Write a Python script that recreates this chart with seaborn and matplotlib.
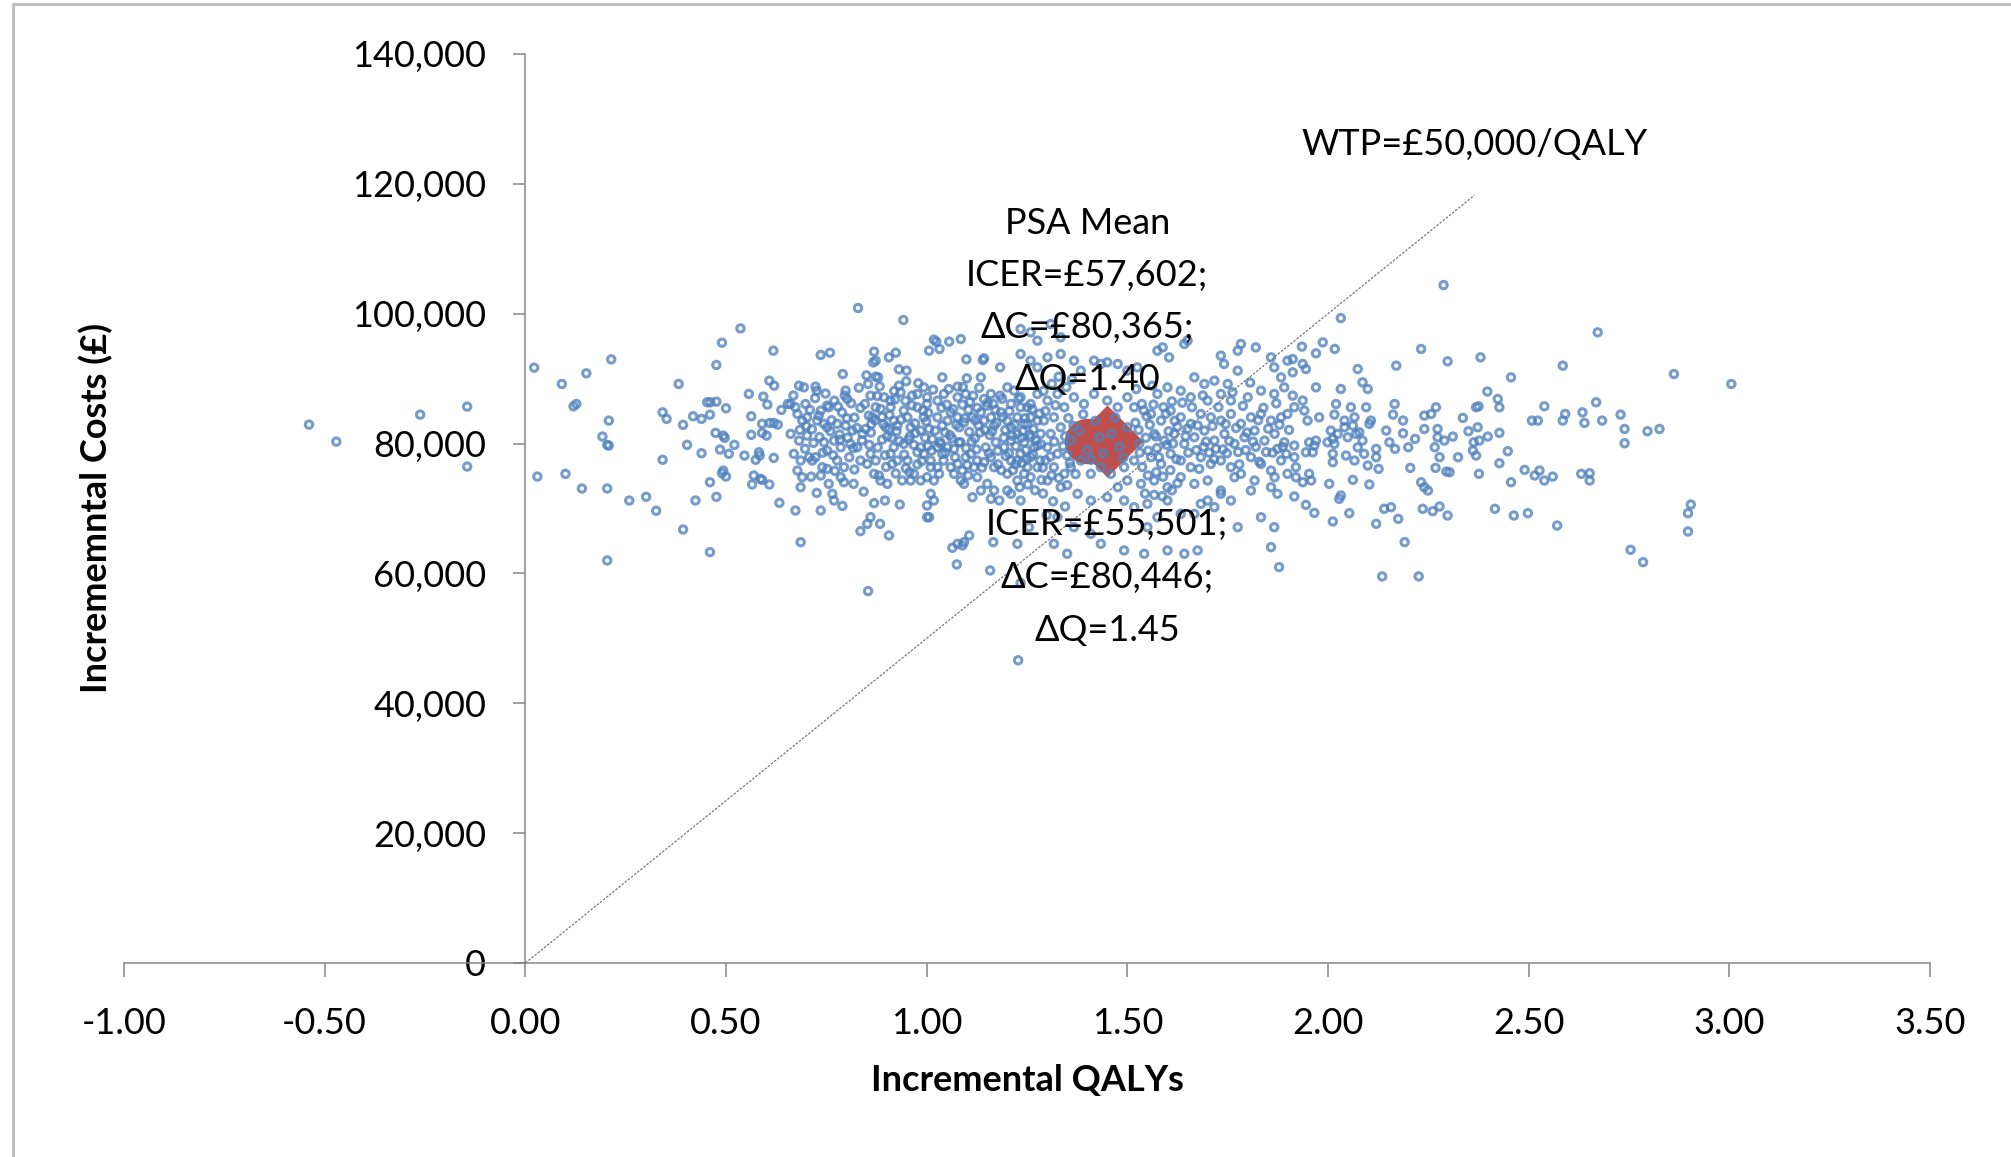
import numpy as np
import pandas as pd
import matplotlib
matplotlib.use("Agg")
import matplotlib.pyplot as plt
import seaborn as sns
from matplotlib.lines import Line2D
from matplotlib.ticker import FuncFormatter

# ---------------------------------------------------------------------------
# PSA simulations: (incremental QALYs, incremental costs in £), grouped by
# QALY band so each list stays readable.
# ---------------------------------------------------------------------------
psa_below_015 = [
    (-0.539, 82920), (-0.471, 80300), (-0.262, 84460), (-0.145, 85690), (-0.145, 76460),
    (0.022, 91690), (0.030, 74920), (0.091, 89180), (0.100, 75340), (0.120, 85740),
    (0.127, 86100), (0.141, 73080), (0.152, 90820),
]

psa_015_066 = [
    (0.214, 92970), (0.208, 83540), (0.192, 81080), (0.204, 79800), (0.208, 79690),
    (0.204, 73080), (0.204, 62000), (0.259, 71230), (0.301, 71800), (0.326, 69650),
    (0.342, 84810), (0.352, 83800), (0.342, 77500), (0.382, 89180), (0.393, 82880),
    (0.403, 79800), (0.393, 66770), (0.418, 84200), (0.439, 83800), (0.439, 78510),
    (0.424, 71230), (0.453, 86360), (0.461, 86360), (0.476, 86460), (0.460, 84460),
    (0.490, 95540), (0.536, 97740), (0.476, 92110), (0.618, 94310), (0.474, 81650),
    (0.493, 81230), (0.497, 80880), (0.500, 85430), (0.485, 79080), (0.507, 78420),
    (0.521, 79800), (0.493, 75850), (0.490, 75430), (0.500, 74920), (0.460, 74050),
    (0.476, 71800), (0.460, 63280), (0.557, 87640), (0.563, 84200), (0.563, 81340),
    (0.546, 78150), (0.574, 77500), (0.582, 78660), (0.584, 78150), (0.569, 75080),
    (0.586, 74570), (0.590, 74410), (0.565, 73700), (0.608, 73700), (0.593, 87230),
    (0.603, 86000), (0.608, 89690), (0.620, 88920), (0.590, 83040), (0.609, 83180),
    (0.619, 83180), (0.629, 82920), (0.590, 81650), (0.601, 81230), (0.619, 77800),
    (0.633, 70870), (0.638, 85180), (0.654, 86100),
]

psa_066_129 = [
    (0.829, 100880), (0.942, 99030), (1.018, 96000), (1.024, 95700), (1.056, 95700),
    (1.085, 96100), (1.006, 94310), (1.032, 94570), (0.736, 93650), (0.759, 94000),
    (0.869, 94160), (0.873, 92770), (0.867, 92500), (0.906, 93280), (0.923, 94000),
    (1.099, 92970), (1.143, 93130), (1.140, 92870), (0.791, 90710), (0.850, 90510),
    (0.873, 90310), (0.879, 90200), (0.931, 91430), (0.950, 91230), (1.039, 90200),
    (1.077, 88770), (1.100, 90050), (1.135, 90200), (1.183, 91740), (0.682, 88920),
    (0.694, 88660), (0.723, 88770), (0.726, 88150), (0.798, 88150), (0.802, 86870),
    (0.854, 89180), (0.860, 87380), (0.877, 87330), (0.894, 87130), (0.910, 86620),
    (0.931, 88920), (0.935, 87900), (0.977, 87640), (0.993, 88660), (1.001, 87130),
    (1.027, 86620), (1.043, 87640), (1.077, 87130), (1.097, 87640), (1.116, 87380),
    (1.143, 86870), (1.160, 87640), (1.183, 87380), (0.661, 86100), (0.673, 85590),
    (0.698, 86100), (0.702, 84040), (0.736, 85080), (0.752, 85850), (0.756, 85590),
    (0.678, 84560), (0.690, 83540), (0.727, 83540), (0.744, 83040), (0.752, 82510),
    (0.777, 83040), (0.798, 82770), (0.815, 82000), (0.856, 84300), (0.865, 84040),
    (0.840, 81490), (0.848, 82250), (0.873, 85590), (0.885, 85330), (0.910, 85590),
    (0.898, 82510), (0.906, 82250), (0.918, 83540), (0.927, 82770), (0.943, 85080),
    (0.952, 84040), (0.960, 82510), (0.977, 85590), (0.993, 84040), (1.001, 86100),
    (0.985, 82000), (1.006, 82250), (1.027, 84040), (1.039, 82770), (1.052, 83540),
    (1.060, 84810), (1.077, 84040), (1.081, 82510), (1.093, 83280), (1.114, 84040),
    (1.135, 84810), (1.143, 83540), (1.160, 84040), (1.168, 82770), (1.185, 84810),
    (1.201, 83540), (1.210, 82510), (1.226, 84040), (1.243, 83040), (1.259, 84040),
    (1.276, 83540), (1.210, 86100), (1.234, 87130), (1.251, 85590), (0.661, 81490),
    (0.682, 80460), (0.702, 81230), (0.669, 78420), (0.686, 77390), (0.707, 77900),
    (0.678, 75850), (0.690, 74820), (0.686, 73280), (0.715, 77390), (0.723, 77900),
    (0.744, 80200), (0.752, 78930), (0.740, 76360), (0.752, 76100), (0.736, 75080),
    (0.769, 80460), (0.786, 79430), (0.777, 77390), (0.794, 76360), (0.786, 74820),
    (0.794, 74050), (0.810, 79950), (0.827, 79430), (0.835, 77390), (0.852, 76870),
    (0.860, 78420), (0.873, 77390), (0.869, 75340), (0.881, 75080), (0.885, 74310),
    (0.902, 73800), (0.910, 78420), (0.918, 79430), (0.914, 76870), (0.927, 77390),
    (0.943, 79950), (0.952, 77390), (0.939, 74310), (0.960, 74310), (0.977, 78660),
    (0.985, 79430), (0.993, 78420), (1.010, 77390), (0.968, 75340), (0.985, 74310),
    (1.001, 74820), (1.010, 76360), (1.027, 79430), (1.035, 79950), (1.039, 78420),
    (1.027, 76360), (1.031, 75340), (1.018, 74310), (1.010, 72260), (1.018, 71230),
    (1.001, 70460), (1.006, 68660), (1.052, 79430), (1.068, 79180), (1.081, 80200),
    (1.060, 76360), (1.077, 76870), (1.089, 75850), (1.068, 75340), (1.085, 74310),
    (1.093, 73800), (1.110, 78420), (1.126, 77390), (1.118, 76360), (1.143, 77130),
    (1.160, 77900), (1.168, 76360), (1.114, 71740), (1.135, 72770), (1.160, 71490),
    (1.181, 71230), (1.126, 74820), (1.151, 73800), (1.168, 72770), (1.193, 79430),
    (1.210, 77390), (1.234, 78420), (1.251, 76360), (1.268, 79430), (1.201, 75340),
    (1.226, 74310), (1.259, 74820), (1.210, 72260), (1.234, 71230), (1.201, 72770),
    (0.673, 69690), (0.736, 69690), (0.686, 64820), (0.765, 72260), (0.769, 71230),
    (0.869, 70820), (0.896, 71230), (0.933, 70610), (0.860, 68660), (0.852, 67640),
    (0.835, 66510), (0.884, 67640), (0.906, 65850), (1.001, 68660), (0.854, 57280),
    (1.064, 63950), (1.077, 64560), (1.093, 64820), (1.106, 65850), (1.089, 64310),
    (1.075, 61380), (1.158, 60460), (1.166, 64820), (1.226, 64560), (1.234, 58520),
    (1.255, 67120), (1.228, 46620), (1.234, 97640), (1.259, 97130), (1.276, 95850),
    (1.234, 93790), (1.259, 92770), (1.276, 91740), (1.201, 88660), (1.218, 88150),
    (1.234, 85590), (1.259, 86100), (1.276, 87640), (1.210, 80460), (1.226, 81490),
    (1.243, 80200), (1.259, 80970), (1.276, 79690), (1.226, 77390), (1.259, 77900),
    (1.276, 76360), (1.243, 75340),
    (0.700, 82700), (0.714, 82200), (0.733, 81000), (0.760, 81900), (0.783, 81400),
    (0.803, 80900), (0.820, 84000), (0.835, 85500), (0.789, 84800), (0.770, 86600),
    (0.722, 87000), (0.807, 77900), (0.820, 76000), (0.771, 75800), (0.712, 74900),
    (0.756, 73800), (0.818, 73800), (0.843, 72600), (0.726, 72400), (0.790, 70400),
    (0.862, 83000), (0.889, 84100), (0.921, 86800), (0.947, 86600), (0.964, 87400),
    (0.971, 83100), (0.999, 83400), (1.014, 80700), (1.046, 81700), (1.063, 80800),
    (1.050, 86000), (1.089, 86000), (1.104, 85200), (1.126, 85500), (1.129, 82800),
    (0.889, 80600), (0.902, 81100), (0.932, 80400), (0.958, 81100), (0.968, 79800),
    (0.996, 80900), (1.003, 79600), (0.896, 78200), (0.923, 75400), (0.948, 76200),
    (0.957, 75600), (0.977, 76800), (1.042, 77400), (1.097, 77900), (1.103, 75100),
    (1.152, 86300), (1.171, 85200), (1.188, 86900), (1.196, 82100), (1.219, 82900),
    (1.239, 81900), (1.251, 83000), (1.266, 82200), (1.284, 81500), (1.192, 80900),
    (1.205, 78500), (1.222, 79600), (1.238, 77000), (1.247, 79000), (1.265, 78300),
    (1.283, 77400), (1.177, 78900), (1.186, 75900), (1.215, 75900), (1.232, 73300),
    (1.252, 73700), (1.270, 72800), (1.286, 74400), (1.172, 80200), (1.157, 81300),
    (1.147, 79400), (1.133, 81700), (1.120, 80800), (1.106, 81800), (1.098, 79300),
]

psa_066_129_core = [
    (0.668, 87400), (0.684, 82100), (0.697, 79200), (0.709, 85200), (0.718, 80100),
    (0.731, 84300), (0.741, 78600), (0.748, 87700), (0.763, 83600), (0.767, 78200),
    (0.779, 85700), (0.784, 80600), (0.796, 87400), (0.801, 83900), (0.812, 86200),
    (0.817, 79300), (0.826, 82400), (0.831, 88600), (0.839, 80500), (0.846, 86100),
    (0.857, 79800), (0.861, 81700), (0.871, 83600), (0.878, 79400), (0.883, 88800),
    (0.892, 83000), (0.899, 76400), (0.907, 84400), (0.913, 80900), (0.919, 88100),
    (0.925, 81900), (0.936, 83700), (0.944, 78300), (0.949, 89600), (0.955, 80600),
    (0.963, 85900), (0.972, 81600), (0.979, 89300), (0.988, 77300), (0.991, 85100),
    (1.004, 84700), (1.012, 78900), (1.016, 88300), (1.021, 82000), (1.033, 80300),
    (1.037, 85500), (1.047, 78600), (1.055, 88400), (1.058, 81300), (1.066, 85300),
    (1.071, 77900), (1.074, 82900), (1.084, 80200), (1.090, 88700), (1.095, 83900),
    (1.101, 76700), (1.108, 86400), (1.112, 80300), (1.121, 83600), (1.124, 79100),
    (1.131, 88600), (1.138, 76300), (1.145, 82100), (1.149, 85800), (1.155, 78500),
    (1.163, 81900), (1.166, 86100), (1.174, 83200), (1.178, 76800), (1.189, 84100),
    (1.197, 78100), (1.206, 85000), (1.213, 81200), (1.221, 76800), (1.229, 86900),
    (1.236, 80900), (1.245, 83900), (1.249, 77600), (1.257, 81400), (1.263, 85300),
    (1.272, 80500), (1.281, 84600), (1.289, 76300),
]

psa_129_191 = [
    (1.783, 95340), (1.820, 94820), (1.733, 93540), (1.741, 92260), (1.775, 94310),
    (1.575, 94310), (1.588, 94820), (1.604, 93280), (1.642, 95340), (1.650, 95850),
    (1.667, 90200), (1.692, 89180), (1.717, 89690), (1.775, 91230), (1.750, 89180),
    (1.858, 93280), (1.883, 90200), (1.866, 91740), (1.899, 92770), (1.309, 98410),
    (1.334, 96360), (1.301, 93280), (1.334, 93790), (1.367, 92770), (1.384, 91230),
    (1.417, 92770), (1.434, 92260), (1.450, 92510), (1.476, 92260), (1.500, 91230),
    (1.525, 91740), (1.301, 86620), (1.326, 87640), (1.343, 85590), (1.367, 87130),
    (1.392, 86100), (1.417, 87640), (1.450, 86620), (1.476, 85590), (1.500, 87130),
    (1.517, 85590), (1.292, 83540), (1.317, 84040), (1.334, 82510), (1.309, 81490),
    (1.301, 79430), (1.326, 78420), (1.317, 76360), (1.343, 75340), (1.301, 74310),
    (1.334, 73280), (1.359, 76360), (1.384, 77390), (1.409, 75340), (1.434, 76360),
    (1.459, 75340), (1.492, 76360), (1.517, 77390), (1.500, 74310), (1.534, 73800),
    (1.476, 73280), (1.376, 72260), (1.409, 71230), (1.450, 71740), (1.492, 71230),
    (1.517, 70200), (1.550, 70720), (1.326, 68660), (1.367, 67120), (1.409, 66100),
    (1.434, 64560), (1.317, 64560), (1.350, 63030), (1.492, 63540), (1.542, 63030),
    (1.600, 63540), (1.642, 63030), (1.675, 63540), (1.550, 67120), (1.575, 68660),
    (1.600, 71230), (1.633, 69180), (1.667, 69180), (1.700, 71230), (1.717, 70200),
    (1.683, 70720), (1.775, 67120), (1.758, 71230), (1.733, 72260), (1.833, 68660),
    (1.866, 67120), (1.858, 64050), (1.878, 60970), (1.874, 72260), (1.858, 73280),
    (1.808, 72770),
    (1.559, 84560), (1.584, 83540), (1.608, 85080), (1.633, 84040), (1.658, 83040),
    (1.683, 84560), (1.708, 84040), (1.733, 83540), (1.758, 84560), (1.783, 83040),
    (1.808, 84040), (1.833, 84560), (1.858, 83540), (1.883, 84040), (1.899, 84560),
    (1.567, 81490), (1.592, 80460), (1.617, 81490), (1.642, 79950), (1.667, 80970),
    (1.692, 82000), (1.717, 80460), (1.742, 81490), (1.767, 79950), (1.792, 80970),
    (1.817, 82000), (1.842, 80460), (1.867, 81490), (1.891, 80200),
    (1.559, 77900), (1.584, 76870), (1.608, 78420), (1.633, 77390), (1.658, 76360),
    (1.683, 77900), (1.708, 76870), (1.733, 77390), (1.758, 76360), (1.783, 75340),
    (1.808, 77900), (1.833, 76870), (1.858, 75850), (1.883, 77390), (1.899, 75340),
    (1.567, 74310), (1.600, 73280), (1.633, 74820), (1.667, 73800), (1.700, 74310),
    (1.733, 72770), (1.767, 74820), (1.817, 74310), (1.867, 74820),
    (1.575, 87640), (1.600, 88660), (1.633, 88150), (1.658, 87130), (1.700, 86620),
    (1.733, 87640), (1.758, 86620), (1.800, 87130), (1.833, 88150), (1.866, 87640),
    (1.891, 88660),
    (1.380, 82000), (1.400, 79000), (1.420, 83500), (1.440, 78500), (1.460, 81500),
    (1.480, 79500), (1.500, 82500), (1.390, 84500), (1.470, 84000), (1.430, 81000),
    (1.410, 77500), (1.490, 77800), (1.360, 80500), (1.530, 80000), (1.520, 83200),
    (1.350, 78200),
    (1.291, 88100), (1.312, 89200), (1.329, 90300), (1.348, 88700), (1.362, 89900),
    (1.296, 85000), (1.321, 85900), (1.353, 83900), (1.345, 81100), (1.366, 82700),
    (1.318, 80300), (1.340, 79600), (1.357, 77000), (1.296, 77400), (1.311, 75100),
    (1.329, 74700), (1.350, 73600), (1.290, 72300), (1.315, 71100), (1.345, 70300),
    (1.299, 69000), (1.371, 75300), (1.285, 79900), (1.308, 78000),
    (1.536, 86100), (1.548, 84200), (1.565, 86000), (1.590, 85600), (1.611, 86500),
    (1.528, 82100), (1.546, 80900), (1.552, 78900), (1.574, 79300), (1.598, 79800),
    (1.614, 80000), (1.537, 76400), (1.551, 75100), (1.572, 75600), (1.589, 74900),
    (1.607, 75900), (1.625, 73900), (1.544, 72300), (1.567, 72100), (1.587, 71900),
    (1.611, 72800), (1.625, 82600), (1.650, 82300), (1.672, 79000), (1.690, 79500),
    (1.704, 78600), (1.721, 79200), (1.748, 78500), (1.776, 78700), (1.795, 79000),
    (1.820, 79500), (1.846, 78700), (1.874, 79200), (1.896, 78400),
]

psa_129_191_core = [
    (1.522, 88400), (1.531, 78600), (1.541, 85100), (1.556, 82900), (1.562, 88900),
    (1.571, 81100), (1.579, 77900), (1.596, 84600), (1.603, 81900), (1.618, 83500),
    (1.622, 77600), (1.637, 86300), (1.645, 81100), (1.652, 78600), (1.661, 85600),
    (1.675, 82800), (1.679, 76100), (1.688, 87400), (1.696, 80300), (1.712, 82700),
    (1.716, 77600), (1.727, 85600), (1.738, 79100), (1.745, 83000), (1.754, 80400),
    (1.762, 87900), (1.771, 82400), (1.779, 76800), (1.788, 85800), (1.798, 81700),
    (1.806, 89400), (1.813, 80300), (1.826, 83600), (1.829, 77200), (1.839, 85500),
    (1.851, 82300), (1.862, 78600), (1.871, 86200), (1.879, 82900), (1.887, 79500),
    (1.903, 82100),
]

psa_191_253 = [
    (2.288, 104410), (2.032, 99330), (1.935, 94930), (1.987, 95590), (1.970, 93900),
    (2.017, 94570), (2.232, 94570), (2.298, 92660), (2.380, 93280), (2.456, 90200),
    (2.170, 92000), (2.074, 91480), (1.912, 93020), (1.937, 92260), (1.945, 91480),
    (1.912, 90970), (1.970, 88660), (2.032, 88410), (2.086, 89430), (2.099, 88410),
    (1.912, 87380), (1.937, 86620), (1.916, 85590), (1.941, 85080), (1.978, 84040),
    (1.949, 83540), (2.020, 86100), (2.016, 84460), (2.057, 85590), (2.095, 85590),
    (2.107, 83540), (2.103, 83040), (2.041, 83540), (2.066, 84040), (2.166, 86100),
    (2.162, 84460), (2.187, 83540), (2.187, 81580), (2.145, 82000), (2.269, 85590),
    (2.257, 84560), (2.240, 84310), (2.240, 82250), (2.273, 82250), (2.336, 83950),
    (2.350, 81900), (2.375, 85740), (2.369, 85590), (2.427, 85590), (2.423, 86870),
    (2.397, 88020), (2.373, 82510), (2.398, 81080), (2.427, 81650), (2.377, 80460),
    (2.363, 80200), (2.361, 78930), (2.369, 78150), (2.448, 78820), (2.427, 76970),
    (2.376, 75340), (2.508, 83540), (2.523, 83540), (2.490, 75950), (2.515, 75080),
    (2.527, 75850), (2.456, 74050), (2.416, 69950), (2.463, 68920), (2.498, 69280),
    (2.273, 80970), (2.290, 80460), (2.311, 81080), (2.266, 79430), (2.278, 77900),
    (2.268, 76260), (2.295, 75690), (2.303, 75590), (2.324, 77900), (2.205, 76260),
    (2.232, 74050), (2.240, 73280), (2.249, 72770), (2.153, 80200), (2.167, 79180),
    (2.200, 79430), (2.217, 80720), (2.120, 79180), (2.126, 76100), (2.103, 73700),
    (2.099, 76620), (2.120, 77900), (2.078, 81740), (2.086, 80460), (2.090, 78420),
    (2.074, 79430), (2.066, 77390), (2.045, 78150), (2.012, 78420), (2.012, 77130),
    (2.062, 74410), (2.003, 73800), (2.032, 72000), (2.028, 71490), (2.053, 69280),
    (2.012, 68000), (1.945, 70560), (1.966, 69330), (1.916, 71850), (1.953, 75340),
    (1.937, 74050), (1.958, 74310), (1.920, 76360), (1.920, 74820), (1.916, 77900),
    (1.916, 79690), (1.953, 80200), (1.966, 79690), (1.970, 80460), (1.945, 78660),
    (1.962, 78660), (2.140, 69950), (2.157, 70200), (2.175, 68410), (2.120, 67640),
    (2.191, 64820), (2.236, 69950), (2.261, 69590), (2.278, 70310), (2.298, 68920),
    (2.135, 59540), (2.226, 59540), (2.007, 82000), (2.012, 80720), (2.024, 81490),
    (1.999, 80200), (2.016, 79950), (2.041, 82510), (2.062, 82770), (2.070, 81490),
    (2.049, 80970),
]

psa_above_253 = [
    (2.672, 97130), (2.585, 92000), (2.862, 90710), (3.005, 89180), (2.539, 85740),
    (2.668, 86360), (2.591, 84560), (2.585, 83540), (2.634, 84810), (2.639, 83180),
    (2.683, 83540), (2.729, 84460), (2.739, 82250), (2.739, 80050), (2.796, 81900),
    (2.826, 82250), (2.560, 74920), (2.539, 74310), (2.631, 75340), (2.652, 75430),
    (2.652, 74310), (2.571, 67380), (2.754, 63640), (2.785, 61740), (2.904, 70610),
    (2.897, 69280), (2.897, 66460),
]

# Summary results
psa_mean_qaly, psa_mean_cost, psa_mean_icer = 1.40, 80365, 57602
det_qaly, det_cost, det_icer = 1.45, 80446, 55501

# Willingness-to-pay threshold line
wtp = 50000
wtp_line_qaly = [0.0, 2.365]

x_ticks = [-1.0, -0.5, 0.0, 0.5, 1.0, 1.5, 2.0, 2.5, 3.0, 3.5]
y_ticks = [0, 20000, 40000, 60000, 80000, 100000, 120000, 140000]

# ---------------------------------------------------------------------------
samples = (psa_below_015 + psa_015_066 + psa_066_129 + psa_066_129_core
           + psa_129_191 + psa_129_191_core + psa_191_253 + psa_above_253)
df = pd.DataFrame(samples, columns=["qalys", "costs"])

sns.set_theme(style="white")
plt.rcParams["font.family"] = ["Lato", "DejaVu Sans"]

BLUE = "#4F81BD"
RED = "#C0504D"
AXIS_GREY = "#868686"
FS = 26
PX = 72 / 100  # points per pixel at 100 dpi

fig = plt.figure(figsize=(20.11, 11.57), dpi=100)
fig.patch.set_facecolor("white")
ax = fig.add_axes([124 / 2011, 1 - 963 / 1157, 1806 / 2011, 909 / 1157])
ax.set_facecolor("white")

# Summary markers (drawn beneath the simulation cloud)
ax.plot([psa_mean_qaly], [psa_mean_cost], marker="o", ms=44 * PX,
        color=RED, mec=RED, ls="none", zorder=2)
ax.plot([det_qaly], [det_cost], marker="D", ms=50 * PX,
        color=RED, mec=RED, ls="none", zorder=2)

# Threshold line
wtp_df = pd.DataFrame({"q": wtp_line_qaly, "c": [wtp * q for q in wtp_line_qaly]})
sns.lineplot(data=wtp_df, x="q", y="c", ax=ax, color="#7a7a7a",
             lw=0.9, dashes=False, zorder=3)
ax.lines[-1].set_linestyle((0, (2.0, 1.2)))

# PSA cloud: small hollow rings
sns.scatterplot(data=df, x="qalys", y="costs", ax=ax, marker="o",
                color=BLUE, facecolor="none", edgecolor=BLUE,
                linewidth=2.2, alpha=0.78, zorder=4)
cloud = ax.collections[-1]
cloud.set_sizes(np.full(len(df), 28.0))
cloud.set_linewidths(2.2)

ax.set_xlim(-1.0, 3.5)
ax.set_ylim(0, 140000)
ax.set_xticks(x_ticks)
ax.set_yticks(y_ticks)
ax.xaxis.set_major_formatter(FuncFormatter(lambda v, p: f"{v:.2f}"))
ax.yaxis.set_major_formatter(FuncFormatter(lambda v, p: f"{v:,.0f}"))
ax.set_xlabel("")
ax.set_ylabel("")

for side in ("top", "right"):
    ax.spines[side].set_visible(False)
ax.spines["left"].set_position(("data", 0))
for side in ("left", "bottom"):
    ax.spines[side].set_color(AXIS_GREY)
    ax.spines[side].set_linewidth(1.1)

ax.tick_params(axis="x", direction="out", length=14 * PX, width=1.1,
               color=AXIS_GREY, labelsize=FS, labelcolor="black", pad=30 * PX,
               bottom=True)
ax.tick_params(axis="y", direction="out", length=12 * PX, width=1.1,
               color=AXIS_GREY, labelsize=FS, labelcolor="black", pad=27 * PX,
               left=True)
ax.grid(False)

# Data labels
upper = ["PSA Mean", f"ICER=£{psa_mean_icer:,};", f"ΔC=£{psa_mean_cost:,};",
         f"ΔQ={psa_mean_qaly:.2f}"]
for i, line in enumerate(upper):
    ax.annotate(line, xy=(psa_mean_qaly, psa_mean_cost),
                xytext=(0, (207 - 52 * i) * PX), textcoords="offset points",
                ha="center", va="baseline", fontsize=FS, color="black", zorder=6)

lower = [f"ICER=£{det_icer:,};", f"ΔC=£{det_cost:,};", f"ΔQ={det_qaly:.2f}"]
for i, line in enumerate(lower):
    ax.annotate(line, xy=(det_qaly, det_cost),
                xytext=(0, -(94 + 53 * i) * PX), textcoords="offset points",
                ha="center", va="baseline", fontsize=FS, color="black", zorder=6)

ax.annotate(f"WTP=£{wtp:,}/QALY", xy=(wtp_line_qaly[1], wtp * wtp_line_qaly[1]),
            xytext=(0, 40 * PX), textcoords="offset points",
            ha="center", va="baseline", fontsize=FS, color="black")

fig.text(1027 / 2011, 1 - 1081 / 1157, "Incremental QALYs", ha="center",
         va="center", fontsize=FS, fontweight="bold", color="black")
fig.text(96 / 2011, 1 - 508 / 1157, "Incrememntal Costs (£)", ha="center",
         va="center", rotation=90, fontsize=FS, fontweight="bold", color="black")

# Chart-area frame (top and left edges)
fig.add_artist(Line2D([13 / 2011, 1.0], [1 - 4 / 1157, 1 - 4 / 1157],
                      transform=fig.transFigure, color="#BFBFBF", lw=2.2))
fig.add_artist(Line2D([13 / 2011, 13 / 2011], [0.0, 1 - 4 / 1157],
                      transform=fig.transFigure, color="#BFBFBF", lw=2.2))

fig.savefig("out.png", dpi=100)
